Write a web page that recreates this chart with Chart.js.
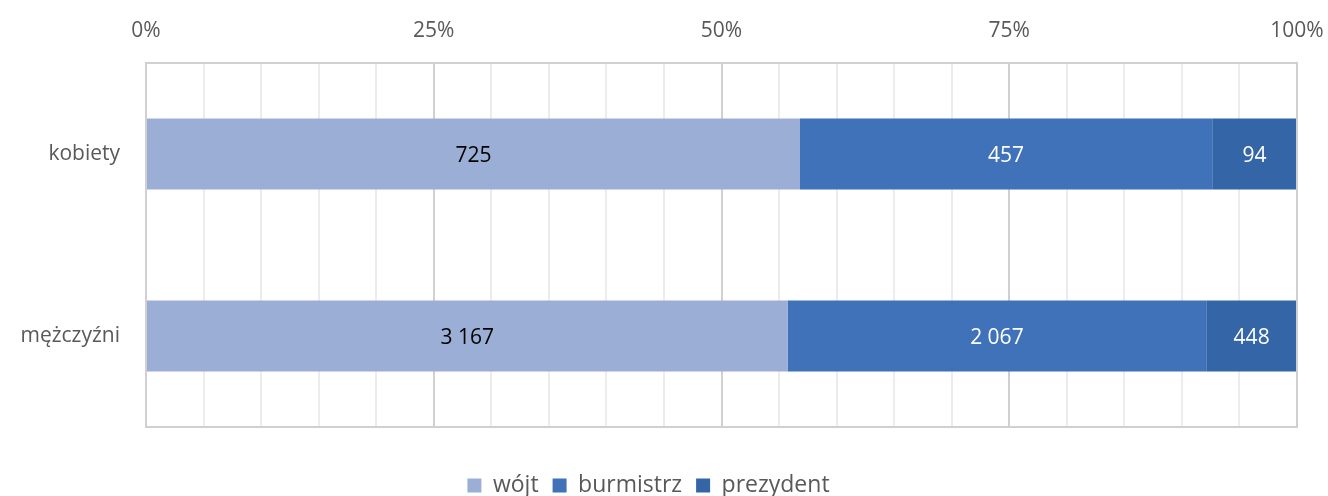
<!DOCTYPE html>
<html>
<head>
<meta charset="utf-8">
<script src="https://cdn.jsdelivr.net/npm/chart.js@4"></script>
<style>
  body { margin: 0; background: #fff; }
  #wrap { width: 1328px; height: 496px; }
</style>
</head>
<body>
<div id="wrap"><canvas id="grafica"></canvas></div>
<script>
var kategorie = ['kobiety', 'mężczyźni'];
var serie = ['wójt', 'burmistrz', 'prezydent'];
var wojt = [725, 3167];
var burmistrz = [457, 2067];
var prezydent = [94, 448];
var kolory = ['#9baed6', '#3f72b9', '#3465a7'];
var koloryTekstu = ['#000000', '#ffffff', '#ffffff'];

var surowe = [wojt, burmistrz, prezydent];
// sumy dla każdej kategorii, żeby policzyć udział procentowy
var sumy = kategorie.map(function (k, i) {
    return wojt[i] + burmistrz[i] + prezydent[i];
});

function formatuj(n) {
    return String(n).replace(/\B(?=(\d{3})+(?!\d))/g, ' ');
}

var czcionka = '"Open Sans", sans-serif';

var zestawy = serie.map(function (nazwa, s) {
    return {
        label: nazwa,
        data: surowe[s].map(function (v, i) { return v / sumy[i] * 100; }),
        backgroundColor: kolory[s],
        borderWidth: 0,
        barPercentage: 0.39,
        categoryPercentage: 1
    };
});

// etykiety z wartościami na środku słupków
var etykiety = {
    id: 'etykiety',
    afterDatasetsDraw: function (chart) {
        var ctx = chart.ctx;
        ctx.save();
        ctx.font = '21px ' + czcionka;
        ctx.textAlign = 'center';
        ctx.textBaseline = 'middle';
        chart.data.datasets.forEach(function (ds, s) {
            chart.getDatasetMeta(s).data.forEach(function (bar, i) {
                var p = bar.getProps(['x', 'y', 'base']);
                ctx.fillStyle = koloryTekstu[s];
                ctx.fillText(formatuj(surowe[s][i]), (p.x + p.base) / 2, p.y + 2);
            });
        });
        ctx.restore();
    }
};

// ramka obszaru wykresu + legenda niżej
var ramka = {
    id: 'ramka',
    beforeInit: function (chart) {
        var leg = chart.legend;
        if (leg) {
            var fit = leg.fit;
            leg.fit = function () {
                fit.call(this);
                this.height = 69;
            };
        }
    },
    afterLayout: function (chart) {
        if (chart.legend) {
            chart.legend.top += 33;
            chart.legend.bottom += 33;
        }
    },
    afterDraw: function (chart) {
        var a = chart.chartArea;
        var ctx = chart.ctx;
        ctx.save();
        ctx.strokeStyle = '#d0d0d0';
        ctx.lineWidth = 2;
        ctx.strokeRect(a.left, a.top, a.right - a.left, a.bottom - a.top);
        ctx.restore();
    }
};

const grafica = new Chart(document.getElementById('grafica'), {
    type: 'bar',
    data: { labels: kategorie, datasets: zestawy },
    options: {
        indexAxis: 'y',
        responsive: true,
        maintainAspectRatio: false,
        animation: false,
        layout: { padding: { top: 0, right: 31, bottom: 0, left: 0 } },
        plugins: {
            legend: {
                position: 'bottom',
                labels: {
                    boxWidth: 14,
                    boxHeight: 14,
                    padding: 14,
                    color: '#595959',
                    font: { family: czcionka, size: 23 }
                }
            },
            tooltip: { enabled: false }
        },
        scales: {
            x: {
                position: 'top',
                stacked: true,
                min: 0,
                max: 100,
                afterFit: function (scale) {
                    scale.height = 63;
                    scale.paddingLeft = 0;
                    scale.paddingRight = 0;
                },
                border: { display: false },
                grid: {
                    drawTicks: false,
                    lineWidth: 2,
                    color: function (c) {
                        return c.tick && c.tick.value % 25 === 0 ? '#d0d0d0' : '#ececec';
                    }
                },
                ticks: {
                    stepSize: 5,
                    autoSkip: false,
                    maxRotation: 0,
                    padding: 19,
                    color: '#595959',
                    font: { family: czcionka, size: 21 },
                    callback: function (v) { return v % 25 === 0 ? v + '%' : ''; }
                }
            },
            y: {
                stacked: true,
                afterFit: function (scale) { scale.width = 146; },
                border: { display: false },
                grid: { display: false },
                ticks: {
                    padding: 18,
                    color: '#595959',
                    font: { family: czcionka, size: 21 }
                }
            }
        }
    },
    plugins: [etykiety, ramka]
});
</script>
</body>
</html>
